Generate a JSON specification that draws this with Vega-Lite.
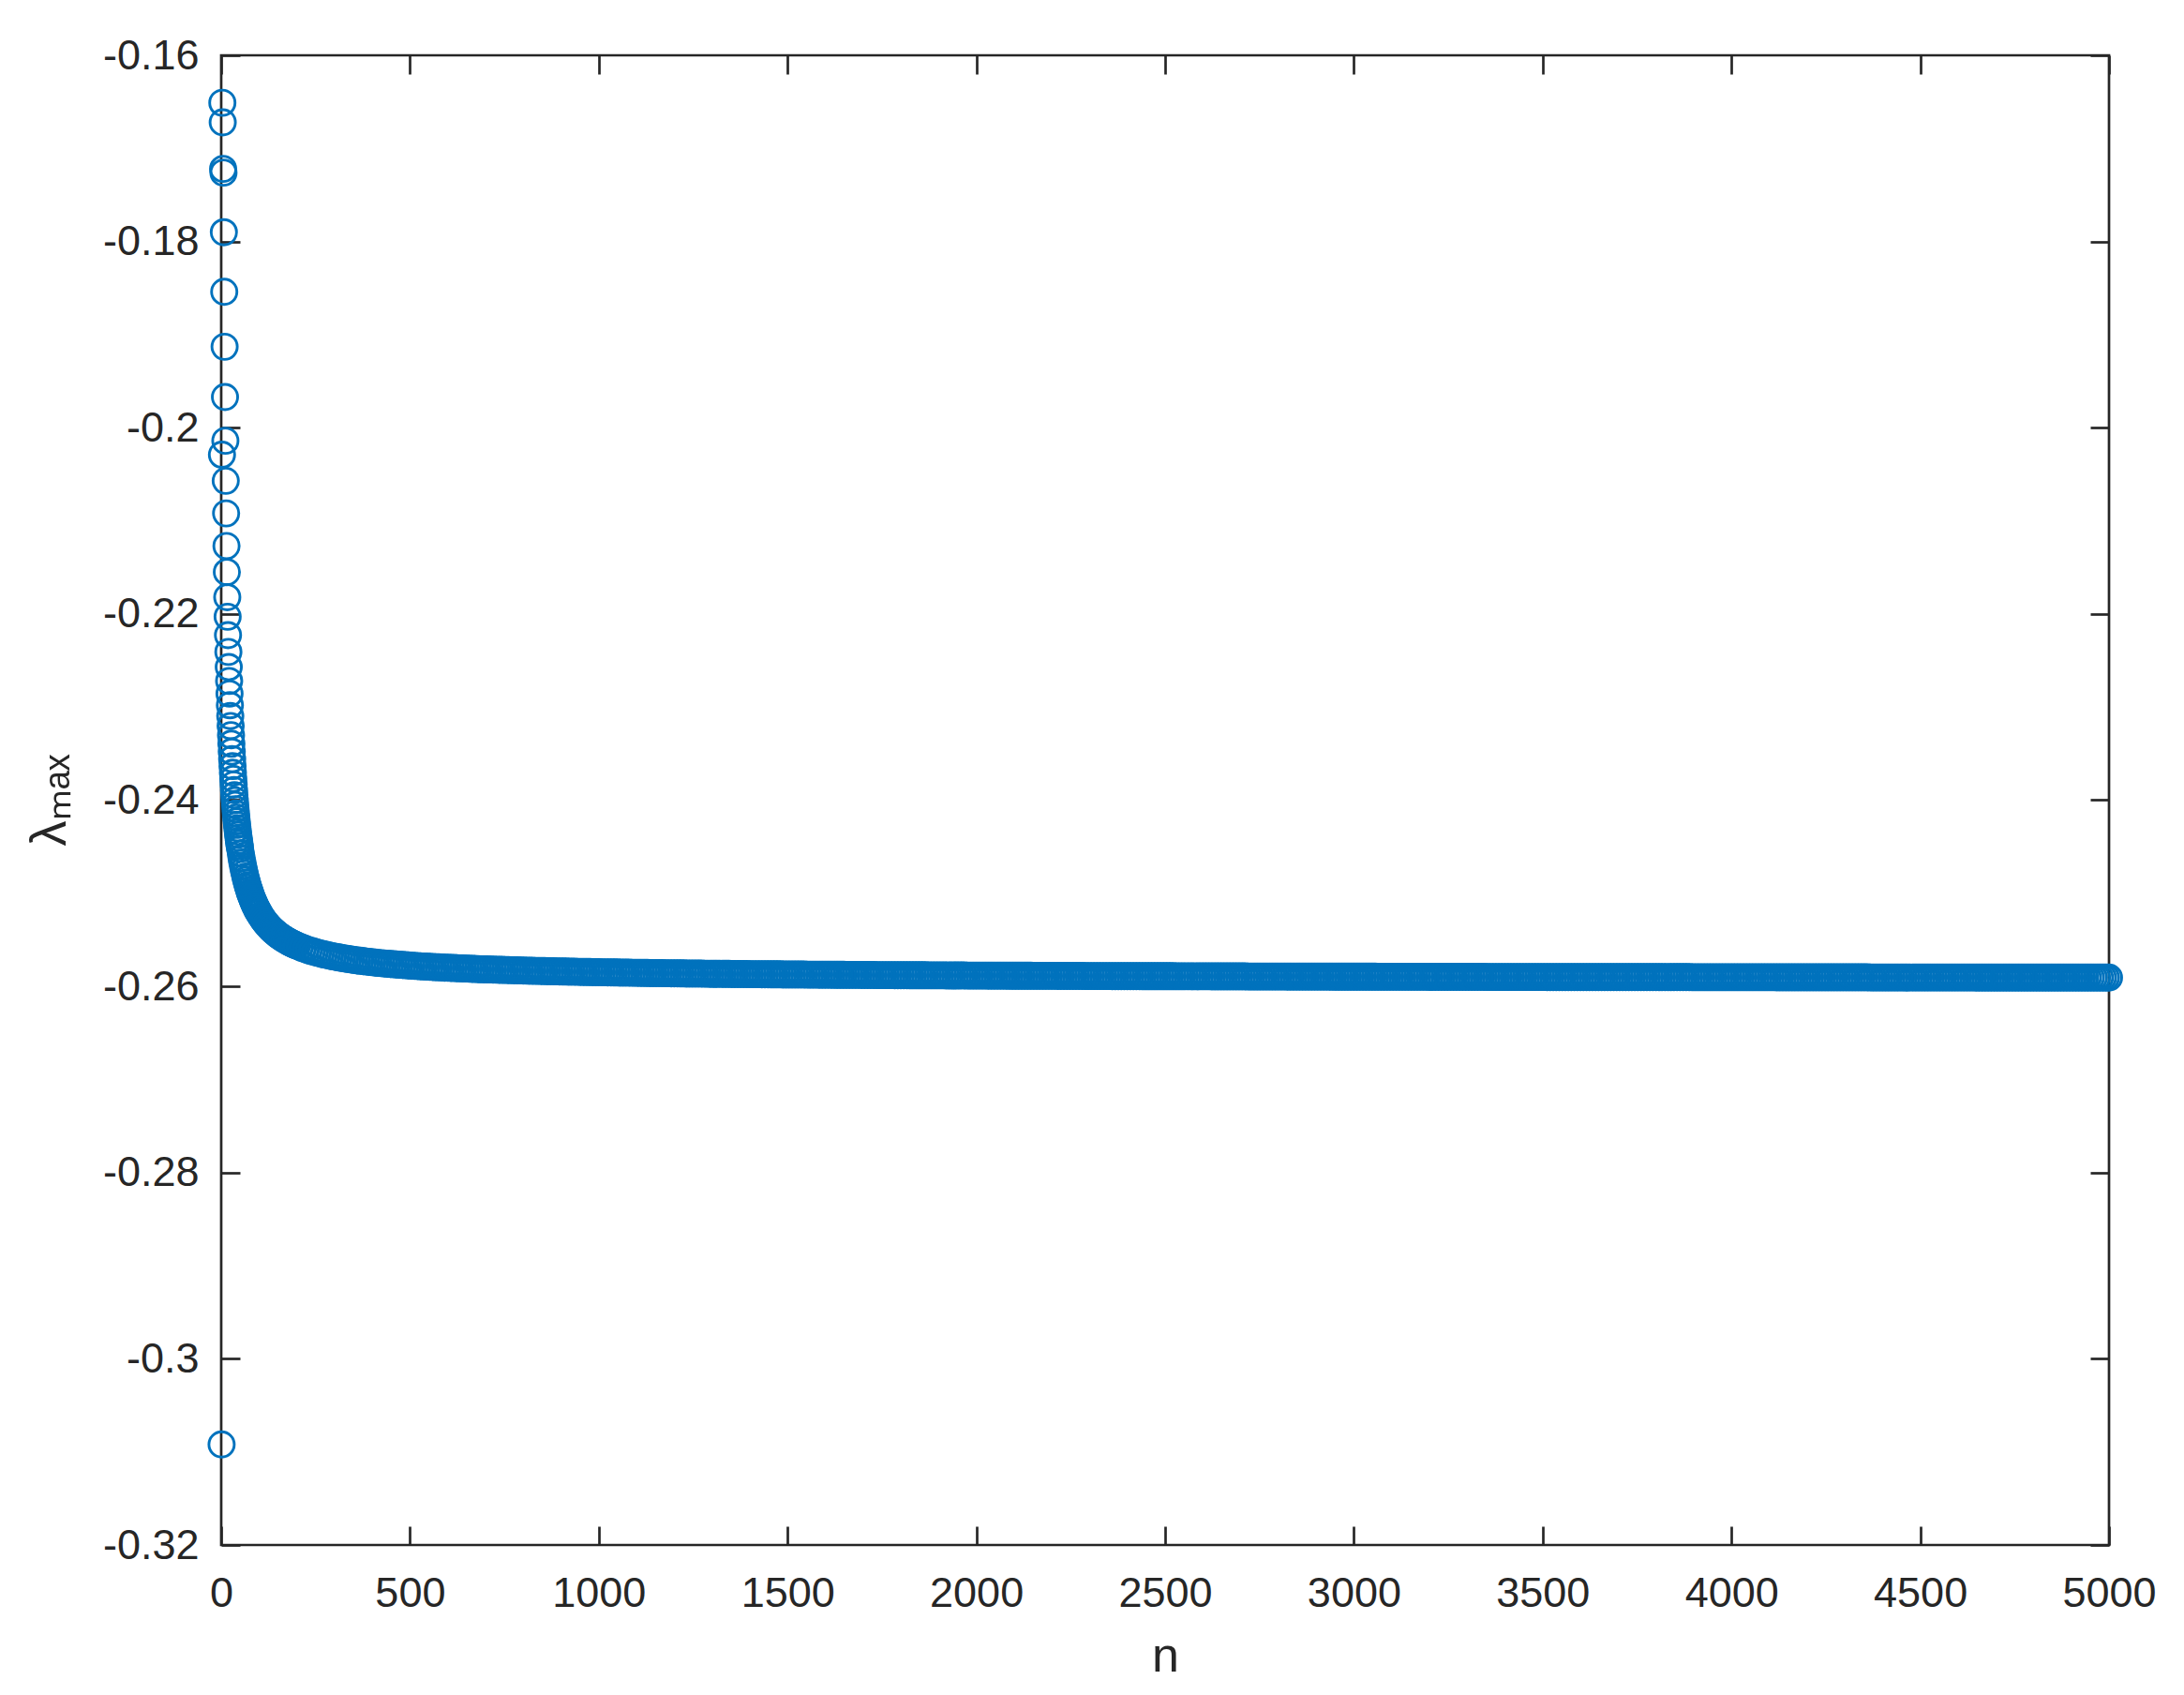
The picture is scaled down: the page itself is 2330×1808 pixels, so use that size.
{
"$schema": "https://vega.github.io/schema/vega-lite/v6.json",
"width": 2014,
"height": 1589,
"autosize": {"type": "none"},
"padding": {"left": 236, "top": 59, "right": 80, "bottom": 160},
"background": "white",
"config": {
  "view": {"stroke": "#262626", "strokeWidth": 2.7},
  "axis": {"grid": false, "domain": false, "tickColor": "#262626", "tickWidth": 2.7, "tickSize": -20, "labelColor": "#262626", "labelFont": "Liberation Sans", "labelFontSize": 45, "titleFont": "Liberation Sans", "titleColor": "#262626", "titleFontWeight": "normal", "titleFontSize": 52, "labelOverlap": false, "labelFlush": false}
},
"data": {"values": [
{"n":1,"v":-0.3092},{"n":2,"v":-0.2029},{"n":3,"v":-0.1651},{"n":4,"v":-0.1672},{"n":5,"v":-0.1722},{"n":6,"v":-0.1726},{"n":7,"v":-0.179},{"n":8,"v":-0.1854},{"n":9,"v":-0.1913},{"n":10,"v":-0.1967},{"n":11,"v":-0.2014},{"n":12,"v":-0.2057},{"n":13,"v":-0.2092},{"n":14,"v":-0.2127},{"n":15,"v":-0.2155},{"n":16,"v":-0.2182},{"n":17,"v":-0.2203},
{"n":18,"v":-0.22228},{"n":19,"v":-0.22408},{"n":20,"v":-0.22571},{"n":21,"v":-0.2272},{"n":22,"v":-0.22856},{"n":23,"v":-0.22981},{"n":24,"v":-0.23096},{"n":25,"v":-0.23203},{"n":26,"v":-0.23302},{"n":27,"v":-0.23394},{"n":28,"v":-0.23479},{"n":29,"v":-0.23559},{"n":30,"v":-0.23634},{"n":31,"v":-0.23705},{"n":32,"v":-0.23771},{"n":33,"v":-0.23833},{"n":34,"v":-0.23892},{"n":35,"v":-0.23947},{"n":36,"v":-0.24},{"n":37,"v":-0.2405},{"n":38,"v":-0.24097},{"n":39,"v":-0.24142},{"n":40,"v":-0.24185},{"n":41,"v":-0.24226},{"n":42,"v":-0.24265},{"n":43,"v":-0.24302},{"n":44,"v":-0.24338},{"n":45,"v":-0.24372},{"n":46,"v":-0.24404},{"n":47,"v":-0.24435},{"n":48,"v":-0.24465},{"n":49,"v":-0.24494},{"n":50,"v":-0.24522},
{"n":52,"v":-0.24574},{"n":54,"v":-0.24623},{"n":56,"v":-0.24668},{"n":58,"v":-0.2471},{"n":60,"v":-0.24749},{"n":62,"v":-0.24786},{"n":64,"v":-0.24821},{"n":66,"v":-0.24853},{"n":68,"v":-0.24884},{"n":70,"v":-0.24913},{"n":72,"v":-0.2494},{"n":74,"v":-0.24966},{"n":76,"v":-0.24991},{"n":78,"v":-0.25014},{"n":80,"v":-0.25037},{"n":82,"v":-0.25058},{"n":84,"v":-0.25078},{"n":86,"v":-0.25097},{"n":88,"v":-0.25116},{"n":90,"v":-0.25133},{"n":92,"v":-0.2515},{"n":94,"v":-0.25166},{"n":96,"v":-0.25182},{"n":98,"v":-0.25196},{"n":100,"v":-0.25211},
{"n":104,"v":-0.25238},{"n":108,"v":-0.25262},{"n":112,"v":-0.25286},{"n":116,"v":-0.25307},{"n":120,"v":-0.25327},{"n":124,"v":-0.25346},{"n":128,"v":-0.25364},{"n":132,"v":-0.25381},{"n":136,"v":-0.25396},{"n":140,"v":-0.25411},{"n":144,"v":-0.25425},{"n":148,"v":-0.25438},{"n":152,"v":-0.25451},{"n":156,"v":-0.25463},{"n":160,"v":-0.25474},{"n":164,"v":-0.25485},{"n":168,"v":-0.25495},{"n":172,"v":-0.25505},{"n":176,"v":-0.25514},{"n":180,"v":-0.25523},{"n":184,"v":-0.25532},{"n":188,"v":-0.2554},{"n":192,"v":-0.25548},{"n":196,"v":-0.25555},{"n":200,"v":-0.25563},
{"n":208,"v":-0.25576},{"n":216,"v":-0.25589},{"n":224,"v":-0.25601},{"n":232,"v":-0.25612},{"n":240,"v":-0.25622},{"n":248,"v":-0.25631},{"n":256,"v":-0.2564},{"n":264,"v":-0.25649},{"n":272,"v":-0.25657},{"n":280,"v":-0.25664},{"n":288,"v":-0.25671},{"n":296,"v":-0.25678},{"n":304,"v":-0.25684},{"n":312,"v":-0.2569},{"n":320,"v":-0.25696},{"n":328,"v":-0.25701},{"n":336,"v":-0.25707},{"n":344,"v":-0.25712},{"n":352,"v":-0.25716},{"n":360,"v":-0.25721},{"n":368,"v":-0.25725},{"n":376,"v":-0.25729},{"n":384,"v":-0.25733},{"n":392,"v":-0.25737},{"n":400,"v":-0.25741},{"n":408,"v":-0.25744},{"n":416,"v":-0.25748},{"n":424,"v":-0.25751},{"n":432,"v":-0.25754},{"n":440,"v":-0.25757},{"n":448,"v":-0.2576},{"n":456,"v":-0.25763},{"n":464,"v":-0.25765},{"n":472,"v":-0.25768},{"n":480,"v":-0.2577},{"n":488,"v":-0.25773},{"n":496,"v":-0.25775},{"n":504,"v":-0.25778},{"n":512,"v":-0.2578},{"n":520,"v":-0.25782},{"n":528,"v":-0.25784},{"n":536,"v":-0.25786},{"n":544,"v":-0.25788},{"n":552,"v":-0.2579},{"n":560,"v":-0.25792},{"n":568,"v":-0.25794},{"n":576,"v":-0.25795},{"n":584,"v":-0.25797},{"n":592,"v":-0.25799},{"n":600,"v":-0.258},{"n":608,"v":-0.25802},{"n":616,"v":-0.25803},{"n":624,"v":-0.25805},{"n":632,"v":-0.25806},{"n":640,"v":-0.25808},{"n":648,"v":-0.25809},{"n":656,"v":-0.2581},{"n":664,"v":-0.25812},{"n":672,"v":-0.25813},{"n":680,"v":-0.25814},{"n":688,"v":-0.25816},{"n":696,"v":-0.25817},{"n":704,"v":-0.25818},{"n":712,"v":-0.25819},{"n":720,"v":-0.2582},{"n":728,"v":-0.25821},{"n":736,"v":-0.25822},{"n":744,"v":-0.25823},{"n":752,"v":-0.25824},{"n":760,"v":-0.25825},{"n":768,"v":-0.25826},{"n":776,"v":-0.25827},{"n":784,"v":-0.25828},{"n":792,"v":-0.25829},{"n":800,"v":-0.2583},{"n":808,"v":-0.25831},{"n":816,"v":-0.25832},{"n":824,"v":-0.25833},{"n":832,"v":-0.25834},{"n":840,"v":-0.25834},{"n":848,"v":-0.25835},{"n":856,"v":-0.25836},{"n":864,"v":-0.25837},{"n":872,"v":-0.25838},{"n":880,"v":-0.25838},{"n":888,"v":-0.25839},{"n":896,"v":-0.2584},{"n":904,"v":-0.25841},{"n":912,"v":-0.25841},{"n":920,"v":-0.25842},{"n":928,"v":-0.25843},{"n":936,"v":-0.25843},{"n":944,"v":-0.25844},{"n":952,"v":-0.25845},{"n":960,"v":-0.25845},{"n":968,"v":-0.25846},{"n":976,"v":-0.25846},{"n":984,"v":-0.25847},{"n":992,"v":-0.25848},{"n":1000,"v":-0.25848},
{"n":1008,"v":-0.25849},{"n":1016,"v":-0.25849},{"n":1024,"v":-0.2585},{"n":1032,"v":-0.2585},{"n":1040,"v":-0.25851},{"n":1048,"v":-0.25851},{"n":1056,"v":-0.25852},{"n":1064,"v":-0.25852},{"n":1072,"v":-0.25853},{"n":1080,"v":-0.25853},{"n":1088,"v":-0.25854},{"n":1096,"v":-0.25854},{"n":1104,"v":-0.25855},{"n":1112,"v":-0.25855},{"n":1120,"v":-0.25856},{"n":1128,"v":-0.25856},{"n":1136,"v":-0.25857},{"n":1144,"v":-0.25857},{"n":1152,"v":-0.25858},{"n":1160,"v":-0.25858},{"n":1168,"v":-0.25858},{"n":1176,"v":-0.25859},{"n":1184,"v":-0.25859},{"n":1192,"v":-0.2586},{"n":1200,"v":-0.2586},{"n":1208,"v":-0.2586},{"n":1216,"v":-0.25861},{"n":1224,"v":-0.25861},{"n":1232,"v":-0.25862},{"n":1240,"v":-0.25862},{"n":1248,"v":-0.25862},{"n":1256,"v":-0.25863},{"n":1264,"v":-0.25863},{"n":1272,"v":-0.25863},{"n":1280,"v":-0.25864},{"n":1288,"v":-0.25864},{"n":1296,"v":-0.25865},{"n":1304,"v":-0.25865},{"n":1312,"v":-0.25865},{"n":1320,"v":-0.25866},{"n":1328,"v":-0.25866},{"n":1336,"v":-0.25866},{"n":1344,"v":-0.25866},{"n":1352,"v":-0.25867},{"n":1360,"v":-0.25867},{"n":1368,"v":-0.25867},{"n":1376,"v":-0.25868},{"n":1384,"v":-0.25868},{"n":1392,"v":-0.25868},{"n":1400,"v":-0.25869},{"n":1408,"v":-0.25869},{"n":1416,"v":-0.25869},{"n":1424,"v":-0.25869},{"n":1432,"v":-0.2587},{"n":1440,"v":-0.2587},{"n":1448,"v":-0.2587},{"n":1456,"v":-0.25871},{"n":1464,"v":-0.25871},{"n":1472,"v":-0.25871},{"n":1480,"v":-0.25871},{"n":1488,"v":-0.25872},{"n":1496,"v":-0.25872},{"n":1504,"v":-0.25872},{"n":1512,"v":-0.25872},{"n":1520,"v":-0.25873},{"n":1528,"v":-0.25873},{"n":1536,"v":-0.25873},{"n":1544,"v":-0.25873},{"n":1552,"v":-0.25874},{"n":1560,"v":-0.25874},{"n":1568,"v":-0.25874},{"n":1576,"v":-0.25874},{"n":1584,"v":-0.25875},{"n":1592,"v":-0.25875},{"n":1600,"v":-0.25875},{"n":1608,"v":-0.25875},{"n":1616,"v":-0.25875},{"n":1624,"v":-0.25876},{"n":1632,"v":-0.25876},{"n":1640,"v":-0.25876},{"n":1648,"v":-0.25876},{"n":1656,"v":-0.25877},{"n":1664,"v":-0.25877},{"n":1672,"v":-0.25877},{"n":1680,"v":-0.25877},{"n":1688,"v":-0.25877},{"n":1696,"v":-0.25878},{"n":1704,"v":-0.25878},{"n":1712,"v":-0.25878},{"n":1720,"v":-0.25878},{"n":1728,"v":-0.25878},{"n":1736,"v":-0.25879},{"n":1744,"v":-0.25879},{"n":1752,"v":-0.25879},{"n":1760,"v":-0.25879},{"n":1768,"v":-0.25879},{"n":1776,"v":-0.25879},{"n":1784,"v":-0.2588},{"n":1792,"v":-0.2588},{"n":1800,"v":-0.2588},{"n":1808,"v":-0.2588},{"n":1816,"v":-0.2588},{"n":1824,"v":-0.25881},{"n":1832,"v":-0.25881},{"n":1840,"v":-0.25881},{"n":1848,"v":-0.25881},{"n":1856,"v":-0.25881},{"n":1864,"v":-0.25881},{"n":1872,"v":-0.25882},{"n":1880,"v":-0.25882},{"n":1888,"v":-0.25882},{"n":1896,"v":-0.25882},{"n":1904,"v":-0.25882},{"n":1912,"v":-0.25882},{"n":1920,"v":-0.25883},{"n":1928,"v":-0.25883},{"n":1936,"v":-0.25883},{"n":1944,"v":-0.25883},{"n":1952,"v":-0.25883},{"n":1960,"v":-0.25883},{"n":1968,"v":-0.25883},{"n":1976,"v":-0.25884},{"n":1984,"v":-0.25884},{"n":1992,"v":-0.25884},{"n":2000,"v":-0.25884},{"n":2008,"v":-0.25884},{"n":2016,"v":-0.25884},{"n":2024,"v":-0.25884},{"n":2032,"v":-0.25885},{"n":2040,"v":-0.25885},{"n":2048,"v":-0.25885},{"n":2056,"v":-0.25885},{"n":2064,"v":-0.25885},{"n":2072,"v":-0.25885},{"n":2080,"v":-0.25885},{"n":2088,"v":-0.25886},{"n":2096,"v":-0.25886},{"n":2104,"v":-0.25886},{"n":2112,"v":-0.25886},{"n":2120,"v":-0.25886},{"n":2128,"v":-0.25886},{"n":2136,"v":-0.25886},{"n":2144,"v":-0.25886},{"n":2152,"v":-0.25887},{"n":2160,"v":-0.25887},{"n":2168,"v":-0.25887},{"n":2176,"v":-0.25887},{"n":2184,"v":-0.25887},{"n":2192,"v":-0.25887},{"n":2200,"v":-0.25887},{"n":2208,"v":-0.25887},{"n":2216,"v":-0.25888},{"n":2224,"v":-0.25888},{"n":2232,"v":-0.25888},{"n":2240,"v":-0.25888},{"n":2248,"v":-0.25888},{"n":2256,"v":-0.25888},{"n":2264,"v":-0.25888},{"n":2272,"v":-0.25888},{"n":2280,"v":-0.25888},{"n":2288,"v":-0.25889},{"n":2296,"v":-0.25889},{"n":2304,"v":-0.25889},{"n":2312,"v":-0.25889},{"n":2320,"v":-0.25889},{"n":2328,"v":-0.25889},{"n":2336,"v":-0.25889},{"n":2344,"v":-0.25889},{"n":2352,"v":-0.25889},{"n":2360,"v":-0.2589},{"n":2368,"v":-0.2589},{"n":2376,"v":-0.2589},{"n":2384,"v":-0.2589},{"n":2392,"v":-0.2589},{"n":2400,"v":-0.2589},{"n":2408,"v":-0.2589},{"n":2416,"v":-0.2589},{"n":2424,"v":-0.2589},{"n":2432,"v":-0.2589},
{"n":2440,"v":-0.25891},{"n":2448,"v":-0.25891},{"n":2456,"v":-0.25891},{"n":2464,"v":-0.25891},{"n":2472,"v":-0.25891},{"n":2480,"v":-0.25891},{"n":2488,"v":-0.25891},{"n":2496,"v":-0.25891},{"n":2504,"v":-0.25891},{"n":2512,"v":-0.25891},{"n":2520,"v":-0.25891},{"n":2528,"v":-0.25892},{"n":2536,"v":-0.25892},{"n":2544,"v":-0.25892},{"n":2552,"v":-0.25892},{"n":2560,"v":-0.25892},{"n":2568,"v":-0.25892},{"n":2576,"v":-0.25892},{"n":2584,"v":-0.25892},{"n":2592,"v":-0.25892},{"n":2600,"v":-0.25892},{"n":2608,"v":-0.25892},{"n":2616,"v":-0.25892},{"n":2624,"v":-0.25893},{"n":2632,"v":-0.25893},{"n":2640,"v":-0.25893},{"n":2648,"v":-0.25893},{"n":2656,"v":-0.25893},{"n":2664,"v":-0.25893},{"n":2672,"v":-0.25893},{"n":2680,"v":-0.25893},{"n":2688,"v":-0.25893},{"n":2696,"v":-0.25893},{"n":2704,"v":-0.25893},{"n":2712,"v":-0.25893},{"n":2720,"v":-0.25894},{"n":2728,"v":-0.25894},{"n":2736,"v":-0.25894},{"n":2744,"v":-0.25894},{"n":2752,"v":-0.25894},{"n":2760,"v":-0.25894},{"n":2768,"v":-0.25894},{"n":2776,"v":-0.25894},{"n":2784,"v":-0.25894},{"n":2792,"v":-0.25894},{"n":2800,"v":-0.25894},{"n":2808,"v":-0.25894},{"n":2816,"v":-0.25894},{"n":2824,"v":-0.25895},{"n":2832,"v":-0.25895},{"n":2840,"v":-0.25895},{"n":2848,"v":-0.25895},{"n":2856,"v":-0.25895},{"n":2864,"v":-0.25895},{"n":2872,"v":-0.25895},{"n":2880,"v":-0.25895},{"n":2888,"v":-0.25895},{"n":2896,"v":-0.25895},{"n":2904,"v":-0.25895},{"n":2912,"v":-0.25895},{"n":2920,"v":-0.25895},{"n":2928,"v":-0.25895},{"n":2936,"v":-0.25895},{"n":2944,"v":-0.25896},{"n":2952,"v":-0.25896},{"n":2960,"v":-0.25896},{"n":2968,"v":-0.25896},{"n":2976,"v":-0.25896},{"n":2984,"v":-0.25896},{"n":2992,"v":-0.25896},{"n":3000,"v":-0.25896},{"n":3008,"v":-0.25896},{"n":3016,"v":-0.25896},{"n":3024,"v":-0.25896},{"n":3032,"v":-0.25896},{"n":3040,"v":-0.25896},{"n":3048,"v":-0.25896},{"n":3056,"v":-0.25896},{"n":3064,"v":-0.25897},{"n":3072,"v":-0.25897},{"n":3080,"v":-0.25897},{"n":3088,"v":-0.25897},{"n":3096,"v":-0.25897},{"n":3104,"v":-0.25897},{"n":3112,"v":-0.25897},{"n":3120,"v":-0.25897},{"n":3128,"v":-0.25897},{"n":3136,"v":-0.25897},{"n":3144,"v":-0.25897},{"n":3152,"v":-0.25897},{"n":3160,"v":-0.25897},{"n":3168,"v":-0.25897},{"n":3176,"v":-0.25897},{"n":3184,"v":-0.25897},{"n":3192,"v":-0.25897},{"n":3200,"v":-0.25898},{"n":3208,"v":-0.25898},{"n":3216,"v":-0.25898},{"n":3224,"v":-0.25898},{"n":3232,"v":-0.25898},{"n":3240,"v":-0.25898},{"n":3248,"v":-0.25898},{"n":3256,"v":-0.25898},{"n":3264,"v":-0.25898},{"n":3272,"v":-0.25898},{"n":3280,"v":-0.25898},{"n":3288,"v":-0.25898},{"n":3296,"v":-0.25898},{"n":3304,"v":-0.25898},{"n":3312,"v":-0.25898},{"n":3320,"v":-0.25898},{"n":3328,"v":-0.25898},{"n":3336,"v":-0.25898},{"n":3344,"v":-0.25898},{"n":3352,"v":-0.25899},{"n":3360,"v":-0.25899},{"n":3368,"v":-0.25899},{"n":3376,"v":-0.25899},{"n":3384,"v":-0.25899},{"n":3392,"v":-0.25899},{"n":3400,"v":-0.25899},{"n":3408,"v":-0.25899},{"n":3416,"v":-0.25899},{"n":3424,"v":-0.25899},{"n":3432,"v":-0.25899},{"n":3440,"v":-0.25899},{"n":3448,"v":-0.25899},{"n":3456,"v":-0.25899},{"n":3464,"v":-0.25899},{"n":3472,"v":-0.25899},{"n":3480,"v":-0.25899},{"n":3488,"v":-0.25899},{"n":3496,"v":-0.25899},{"n":3504,"v":-0.25899},{"n":3512,"v":-0.259},{"n":3520,"v":-0.259},{"n":3528,"v":-0.259},{"n":3536,"v":-0.259},{"n":3544,"v":-0.259},{"n":3552,"v":-0.259},{"n":3560,"v":-0.259},{"n":3568,"v":-0.259},{"n":3576,"v":-0.259},{"n":3584,"v":-0.259},{"n":3592,"v":-0.259},{"n":3600,"v":-0.259},{"n":3608,"v":-0.259},{"n":3616,"v":-0.259},{"n":3624,"v":-0.259},{"n":3632,"v":-0.259},{"n":3640,"v":-0.259},{"n":3648,"v":-0.259},{"n":3656,"v":-0.259},{"n":3664,"v":-0.259},{"n":3672,"v":-0.259},{"n":3680,"v":-0.259},{"n":3688,"v":-0.259},{"n":3696,"v":-0.25901},{"n":3704,"v":-0.25901},{"n":3712,"v":-0.25901},{"n":3720,"v":-0.25901},{"n":3728,"v":-0.25901},{"n":3736,"v":-0.25901},{"n":3744,"v":-0.25901},{"n":3752,"v":-0.25901},{"n":3760,"v":-0.25901},{"n":3768,"v":-0.25901},{"n":3776,"v":-0.25901},{"n":3784,"v":-0.25901},{"n":3792,"v":-0.25901},{"n":3800,"v":-0.25901},{"n":3808,"v":-0.25901},{"n":3816,"v":-0.25901},{"n":3824,"v":-0.25901},{"n":3832,"v":-0.25901},{"n":3840,"v":-0.25901},{"n":3848,"v":-0.25901},{"n":3856,"v":-0.25901},{"n":3864,"v":-0.25901},{"n":3872,"v":-0.25901},{"n":3880,"v":-0.25901},{"n":3888,"v":-0.25901},{"n":3896,"v":-0.25902},{"n":3904,"v":-0.25902},{"n":3912,"v":-0.25902},{"n":3920,"v":-0.25902},{"n":3928,"v":-0.25902},{"n":3936,"v":-0.25902},{"n":3944,"v":-0.25902},{"n":3952,"v":-0.25902},{"n":3960,"v":-0.25902},{"n":3968,"v":-0.25902},{"n":3976,"v":-0.25902},{"n":3984,"v":-0.25902},{"n":3992,"v":-0.25902},{"n":4000,"v":-0.25902},{"n":4008,"v":-0.25902},{"n":4016,"v":-0.25902},{"n":4024,"v":-0.25902},{"n":4032,"v":-0.25902},{"n":4040,"v":-0.25902},{"n":4048,"v":-0.25902},{"n":4056,"v":-0.25902},{"n":4064,"v":-0.25902},{"n":4072,"v":-0.25902},{"n":4080,"v":-0.25902},{"n":4088,"v":-0.25902},{"n":4096,"v":-0.25902},{"n":4104,"v":-0.25902},{"n":4112,"v":-0.25902},{"n":4120,"v":-0.25903},{"n":4128,"v":-0.25903},{"n":4136,"v":-0.25903},{"n":4144,"v":-0.25903},{"n":4152,"v":-0.25903},{"n":4160,"v":-0.25903},{"n":4168,"v":-0.25903},{"n":4176,"v":-0.25903},{"n":4184,"v":-0.25903},{"n":4192,"v":-0.25903},{"n":4200,"v":-0.25903},{"n":4208,"v":-0.25903},{"n":4216,"v":-0.25903},{"n":4224,"v":-0.25903},{"n":4232,"v":-0.25903},{"n":4240,"v":-0.25903},{"n":4248,"v":-0.25903},{"n":4256,"v":-0.25903},{"n":4264,"v":-0.25903},{"n":4272,"v":-0.25903},{"n":4280,"v":-0.25903},{"n":4288,"v":-0.25903},{"n":4296,"v":-0.25903},{"n":4304,"v":-0.25903},{"n":4312,"v":-0.25903},{"n":4320,"v":-0.25903},{"n":4328,"v":-0.25903},{"n":4336,"v":-0.25903},{"n":4344,"v":-0.25903},{"n":4352,"v":-0.25903},{"n":4360,"v":-0.25903},{"n":4368,"v":-0.25904},{"n":4376,"v":-0.25904},{"n":4384,"v":-0.25904},{"n":4392,"v":-0.25904},{"n":4400,"v":-0.25904},{"n":4408,"v":-0.25904},{"n":4416,"v":-0.25904},{"n":4424,"v":-0.25904},{"n":4432,"v":-0.25904},{"n":4440,"v":-0.25904},{"n":4448,"v":-0.25904},{"n":4456,"v":-0.25904},{"n":4464,"v":-0.25904},{"n":4472,"v":-0.25904},{"n":4480,"v":-0.25904},{"n":4488,"v":-0.25904},{"n":4496,"v":-0.25904},{"n":4504,"v":-0.25904},{"n":4512,"v":-0.25904},{"n":4520,"v":-0.25904},{"n":4528,"v":-0.25904},{"n":4536,"v":-0.25904},{"n":4544,"v":-0.25904},{"n":4552,"v":-0.25904},{"n":4560,"v":-0.25904},{"n":4568,"v":-0.25904},{"n":4576,"v":-0.25904},{"n":4584,"v":-0.25904},{"n":4592,"v":-0.25904},{"n":4600,"v":-0.25904},{"n":4608,"v":-0.25904},{"n":4616,"v":-0.25904},{"n":4624,"v":-0.25904},{"n":4632,"v":-0.25904},{"n":4640,"v":-0.25904},{"n":4648,"v":-0.25905},{"n":4656,"v":-0.25905},{"n":4664,"v":-0.25905},{"n":4672,"v":-0.25905},{"n":4680,"v":-0.25905},{"n":4688,"v":-0.25905},{"n":4696,"v":-0.25905},{"n":4704,"v":-0.25905},{"n":4712,"v":-0.25905},{"n":4720,"v":-0.25905},{"n":4728,"v":-0.25905},{"n":4736,"v":-0.25905},{"n":4744,"v":-0.25905},{"n":4752,"v":-0.25905},{"n":4760,"v":-0.25905},{"n":4768,"v":-0.25905},{"n":4776,"v":-0.25905},{"n":4784,"v":-0.25905},{"n":4792,"v":-0.25905},{"n":4800,"v":-0.25905},{"n":4808,"v":-0.25905},{"n":4816,"v":-0.25905},{"n":4824,"v":-0.25905},{"n":4832,"v":-0.25905},{"n":4840,"v":-0.25905},{"n":4848,"v":-0.25905},{"n":4856,"v":-0.25905},{"n":4864,"v":-0.25905},{"n":4872,"v":-0.25905},{"n":4880,"v":-0.25905},{"n":4888,"v":-0.25905},{"n":4896,"v":-0.25905},{"n":4904,"v":-0.25905},{"n":4912,"v":-0.25905},{"n":4920,"v":-0.25905},{"n":4928,"v":-0.25905},{"n":4936,"v":-0.25905},{"n":4944,"v":-0.25905},{"n":4952,"v":-0.25905},{"n":4960,"v":-0.25905},{"n":4968,"v":-0.25906},{"n":4976,"v":-0.25906},{"n":4984,"v":-0.25906},{"n":4992,"v":-0.25906},{"n":5000,"v":-0.25906}
]},
"layer": [
  {
    "mark": {"type": "point", "shape": "circle", "filled": false, "color": "#0072BD", "size": 730, "strokeWidth": 2.9, "opacity": 1},
    "encoding": {
      "x": {"field": "n", "type": "quantitative", "scale": {"domain": [0, 5000], "nice": false, "zero": false},
            "axis": {"orient": "bottom", "values": [0,500,1000,1500,2000,2500,3000,3500,4000,4500,5000], "format": "d", "labelPadding": 49, "title": "n", "titleY": 134, "titleBaseline": "alphabetic"}},
      "y": {"field": "v", "type": "quantitative", "scale": {"domain": [-0.32, -0.16], "nice": false, "zero": false},
            "axis": {"orient": "left", "values": [-0.32,-0.3,-0.28,-0.26,-0.24,-0.22,-0.2,-0.18,-0.16], "labelExpr": "replace(format(datum.value, '~g'), '\u2212', '-')", "labelPadding": 44, "title": "λₘₐₓ", "titleX": -167, "titleY": 794, "titleBaseline": "alphabetic", "titleAngle": -90, "titleFontSize": 54}}
    }
  },
  {
    "mark": {"type": "point", "opacity": 0, "size": 1},
    "encoding": {
      "x": {"field": "n", "type": "quantitative", "axis": {"orient": "top", "values": [0,500,1000,1500,2000,2500,3000,3500,4000,4500,5000], "labels": false, "title": null}},
      "y": {"field": "v", "type": "quantitative", "axis": {"orient": "right", "values": [-0.32,-0.3,-0.28,-0.26,-0.24,-0.22,-0.2,-0.18,-0.16], "labels": false, "title": null}}
    }
  }
],
"resolve": {"axis": {"x": "independent", "y": "independent"}}
}
